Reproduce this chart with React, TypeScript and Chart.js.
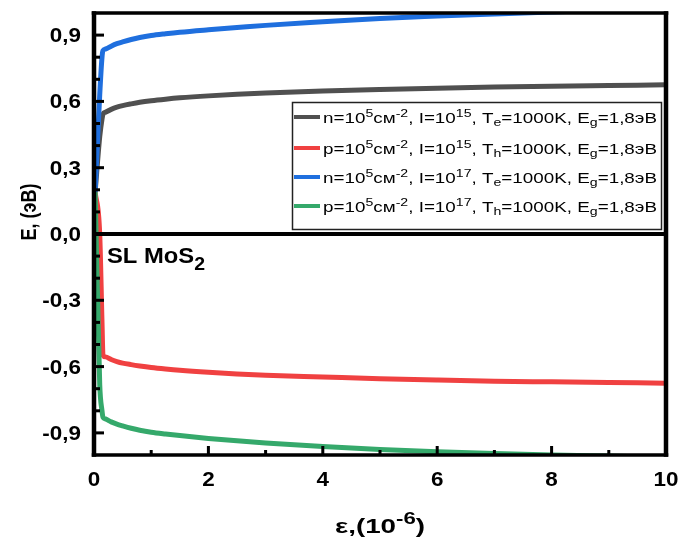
import { useEffect, useRef } from "react";
import { Chart, registerables } from "chart.js";

Chart.register(...registerables);

// ---- data ----
const EPS = [0.02, 0.1, 0.14, 0.157, 0.2, 0.3, 0.4, 0.5, 0.65, 0.8, 1, 1.25, 1.5, 2, 2.5, 3, 4, 5, 6, 7, 8, 9, 10];
const E_N_I15 = [0.19, 0.44, 0.52, 0.542, 0.551, 0.564, 0.574, 0.581, 0.589, 0.596, 0.603, 0.61, 0.616, 0.625, 0.632, 0.638, 0.647, 0.654, 0.66, 0.665, 0.669, 0.672, 0.675];
const E_P_I15 = [0.19, 0.0, -0.4, -0.549, -0.556, -0.568, -0.577, -0.584, -0.591, -0.597, -0.604, -0.611, -0.617, -0.626, -0.633, -0.639, -0.647, -0.655, -0.661, -0.666, -0.669, -0.672, -0.675];
const E_N_I17 = [0.19, 0.63, 0.8, 0.83, 0.837, 0.85, 0.861, 0.869, 0.88, 0.889, 0.898, 0.906, 0.913, 0.924, 0.934, 0.944, 0.96, 0.975, 0.986, 0.996, 1.005, 1.013, 1.02];
const E_P_I17 = [0.19, -0.68, -0.8, -0.829, -0.837, -0.85, -0.86, -0.868, -0.879, -0.888, -0.897, -0.905, -0.912, -0.925, -0.936, -0.946, -0.962, -0.975, -0.985, -0.993, -1.0, -1.005, -1.01];

const SERIES_LABELS = [
  "n=10^{5}см^{-2}, I=10^{15}, T_{e}=1000K, E_{g}=1,8эВ",
  "p=10^{5}см^{-2}, I=10^{15}, T_{h}=1000K, E_{g}=1,8эВ",
  "n=10^{5}см^{-2}, I=10^{17}, T_{e}=1000K, E_{g}=1,8эВ",
  "p=10^{5}см^{-2}, I=10^{17}, T_{h}=1000K, E_{g}=1,8эВ",
];
const SERIES_COLORS = ["#505050", "#f04141", "#1f6fde", "#35a96b"];

const Y_TICKS = [-0.9, -0.6, -0.3, 0, 0.3, 0.6, 0.9];
const Y_TICK_LABELS = ["-0,9", "-0,6", "-0,3", "0,0", "0,3", "0,6", "0,9"];
const Y_MINOR = [-0.8, -0.7, -0.5, -0.4, -0.2, -0.1, 0.1, 0.2, 0.4, 0.5, 0.7, 0.8];
const X_TICKS = [0, 2, 4, 6, 8, 10];
const X_TICK_LABELS = ["0", "2", "4", "6", "8", "10"];
const X_MINOR = [1, 3, 5, 7, 9];
const X_TITLE = "ε,(10^{-6})";
const Y_TITLE = "E, (эВ)";
const ANNOTATION = "SL MoS_{2}";

const FONT = '"Liberation Sans", Arial, sans-serif';

type Seg = { t: string; k?: "sup" | "sub" };

function parseRich(s: string): Seg[] {
  const out: Seg[] = [];
  const re = /\^\{([^}]*)\}|_\{([^}]*)\}|([^^_]+)/g;
  let m: RegExpExecArray | null;
  while ((m = re.exec(s))) {
    if (m[1] !== undefined) out.push({ t: m[1], k: "sup" });
    else if (m[2] !== undefined) out.push({ t: m[2], k: "sub" });
    else out.push({ t: m[3] });
  }
  return out;
}

interface RichOpts {
  size: number;
  weight: string;
  subScale?: number;
  supRaise?: number;
  subDrop?: number;
}

function measureRich(ctx: CanvasRenderingContext2D, segs: Seg[], o: RichOpts) {
  const ss = o.subScale ?? 0.72;
  let w = 0;
  for (const s of segs) {
    ctx.font = `${o.weight} ${s.k ? o.size * ss : o.size}px ${FONT}`;
    w += ctx.measureText(s.t).width;
  }
  return w;
}

function drawRich(
  ctx: CanvasRenderingContext2D,
  segs: Seg[],
  x: number,
  y: number,
  o: RichOpts,
  sx: number,
  align: "left" | "center" | "right"
) {
  const ss = o.subScale ?? 0.72;
  const w = measureRich(ctx, segs, o) * sx;
  const start = align === "left" ? x : align === "center" ? x - w / 2 : x - w;
  ctx.save();
  ctx.translate(start, y);
  ctx.scale(sx, 1);
  ctx.textAlign = "left";
  ctx.textBaseline = "alphabetic";
  let cx = 0;
  for (const s of segs) {
    ctx.font = `${o.weight} ${s.k ? o.size * ss : o.size}px ${FONT}`;
    const dy = s.k === "sup" ? -(o.supRaise ?? o.size * 0.42) : s.k === "sub" ? (o.subDrop ?? o.size * 0.22) : 0;
    ctx.fillText(s.t, cx, dy);
    cx += ctx.measureText(s.t).width;
  }
  ctx.restore();
  return w;
}

const decorPlugin = {
  id: "decor",
  afterDatasetsDraw(chart: any) {
    const ctx: CanvasRenderingContext2D = chart.ctx;
    const { left, right, top, bottom } = chart.chartArea;
    const xs = chart.scales.x;
    const ys = chart.scales.y;
    ctx.save();
    ctx.fillStyle = "#000";

    // zero line
    const y0 = ys.getPixelForValue(0);
    ctx.fillRect(left, y0 - 2, right - left, 4);

    // frame
    const hv = 4.5;
    const hh = 3.5;
    ctx.fillRect(left - hv / 2, top - hh / 2, right - left + hv, hh);
    ctx.fillRect(left - hv / 2, bottom - hh / 2, right - left + hv, hh);
    ctx.fillRect(left - hv / 2, top - hh / 2, hv, bottom - top + hh);
    ctx.fillRect(right - hv / 2, top - hh / 2, hv, bottom - top + hh);

    // y ticks (inward)
    for (const v of Y_TICKS) {
      const p = ys.getPixelForValue(v);
      ctx.fillRect(left, p - 1.5, 10, 3);
    }
    for (const v of Y_MINOR) {
      const p = ys.getPixelForValue(v);
      ctx.fillRect(left, p - 1.5, 6, 3);
    }
    // x ticks (inward)
    for (const v of X_TICKS) {
      const p = xs.getPixelForValue(v);
      ctx.fillRect(p - 1.5, bottom - 9, 3, 9);
    }
    for (const v of X_MINOR) {
      const p = xs.getPixelForValue(v);
      ctx.fillRect(p - 1.5, bottom - 5, 3, 5);
    }

    // tick labels
    const tick = { size: 19.5, weight: "bold" };
    Y_TICKS.forEach((v, i) => {
      const p = ys.getPixelForValue(v);
      drawRich(ctx, [{ t: Y_TICK_LABELS[i] }], 81, p + 7, tick, 1.15, "right");
    });
    X_TICKS.forEach((v, i) => {
      const p = xs.getPixelForValue(v);
      drawRich(ctx, [{ t: X_TICK_LABELS[i] }], p, 486, tick, 1.15, "center");
    });

    // x title
    const xt = { size: 21, weight: "bold", subScale: 0.8, supRaise: 9 };
    const xSegs = parseRich(X_TITLE);
    const xw = measureRich(ctx, xSegs, xt);
    drawRich(ctx, xSegs, 335, 533, xt, 90 / xw, "left");

    // y title (rotated)
    ctx.save();
    ctx.translate(28, 212);
    ctx.rotate(-Math.PI / 2);
    ctx.scale(1, 1.25);
    drawRich(ctx, [{ t: Y_TITLE }], 0, 6.5, { size: 18, weight: "bold" }, 1, "center");
    ctx.restore();

    // annotation
    const an = { size: 22, weight: "bold", subScale: 0.82, subDrop: 7 };
    const aSegs = parseRich(ANNOTATION);
    const aw = measureRich(ctx, aSegs, an);
    drawRich(ctx, aSegs, 107, 263, an, 98 / aw, "left");

    // legend
    const bx = 292.5, by = 102.5, bw = 369, bh = 127;
    ctx.fillStyle = "#fff";
    ctx.fillRect(bx, by, bw, bh);
    ctx.strokeStyle = "#222";
    ctx.lineWidth = 1.5;
    ctx.strokeRect(bx, by, bw, bh);
    const lg = { size: 15, weight: "normal", subScale: 0.75, supRaise: 6, subDrop: 3 };
    const first = parseRich(SERIES_LABELS[0]);
    const lsx = 334 / measureRich(ctx, first, lg);
    const rows = [117, 148, 177, 206];
    SERIES_LABELS.forEach((lab, i) => {
      const cy = rows[i];
      ctx.fillStyle = SERIES_COLORS[i];
      ctx.fillRect(294, cy - 2, 26, 4);
      ctx.fillStyle = "#000";
      drawRich(ctx, parseRich(lab), 323, cy + 5.5, lg, lsx, "left");
    });

    ctx.restore();
  },
};

export default function App() {
  const ref = useRef<HTMLCanvasElement | null>(null);

  useEffect(() => {
    document.body.style.margin = "0";
    const canvas = ref.current;
    if (!canvas) return;
    const seriesValues = [E_N_I15, E_P_I15, E_N_I17, E_P_I17];
    const chart = new Chart(canvas, {
      type: "line",
      data: {
        datasets: seriesValues.map((vals, i) => ({
          label: SERIES_LABELS[i],
          data: EPS.map((x, j) => ({ x, y: vals[j] })),
          borderColor: SERIES_COLORS[i],
          backgroundColor: SERIES_COLORS[i],
          borderWidth: 5,
          pointRadius: 0,
          cubicInterpolationMode: "monotone",
          borderJoinStyle: "round",
          clip: 0,
          order: 4 - i,
          fill: false,
        })),
      },
      options: {
        responsive: false,
        animation: false,
        events: [],
        layout: { padding: { left: 94, top: 13, right: 14, bottom: 85 } },
        scales: {
          x: { type: "linear", min: 0, max: 10, display: false },
          y: { type: "linear", min: -1, max: 1, display: false },
        },
        plugins: {
          legend: { display: false },
          tooltip: { enabled: false },
        },
      },
      plugins: [decorPlugin],
    } as any);
    return () => chart.destroy();
  }, []);

  return (
    <div style={{ width: 680, height: 540, background: "#fff" }}>
      <canvas ref={ref} width={680} height={540} style={{ display: "block" }} />
    </div>
  );
}
